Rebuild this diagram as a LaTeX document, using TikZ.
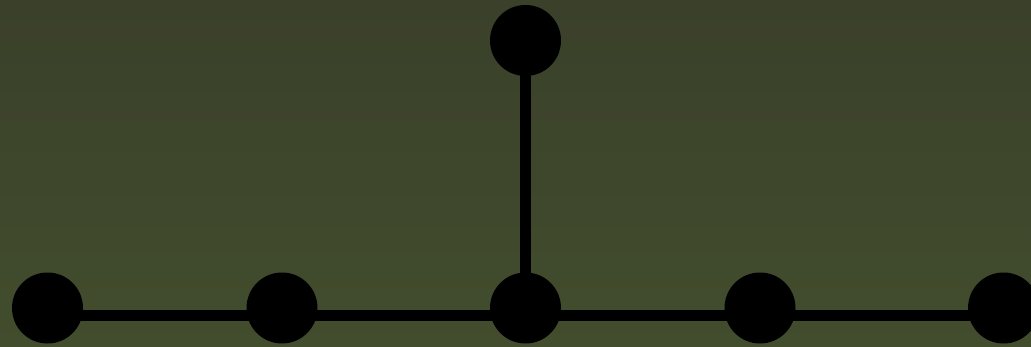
\documentclass[tikz,border=0pt]{standalone}
\usepackage{tikz}
\usepackage{xcolor}
\usetikzlibrary{positioning, calc}
\definecolor{cBgTop}{RGB}{58,64,42}
\definecolor{cBgBot}{RGB}{66,77,45}
\tikzset{
	vert/.style ={circle, fill=black, draw=none, minimum size=71pt, inner sep=0pt},
	edge/.style ={line width=11pt, black},
}

\begin{document}
\begin{tikzpicture}[x=1pt, y=1pt]
	% background
	\shade[top color=cBgTop, bottom color=cBgBot] (0,0) rectangle (1031,346);
	\useasboundingbox (0,0) rectangle (1031,346);
	% vertices
	\foreach \name/\xx in {v1/47.5, v2/282, v3/525.5, v4/760, v5/1003.5} {
		\node[vert] (\name) at (\xx,38) {};
	}
	\node[vert] (top) at (525.5,305.5) {};
	% edges
	\foreach \a/\b in {v1/v2, v2/v3, v3/v4, v4/v5} {
		\draw[edge] ([yshift=-7.5pt]\a.center) -- ([yshift=-7.5pt]\b.center);
	}
	\draw[edge] (top.center) -- (v3.center);
\end{tikzpicture}
\end{document}
